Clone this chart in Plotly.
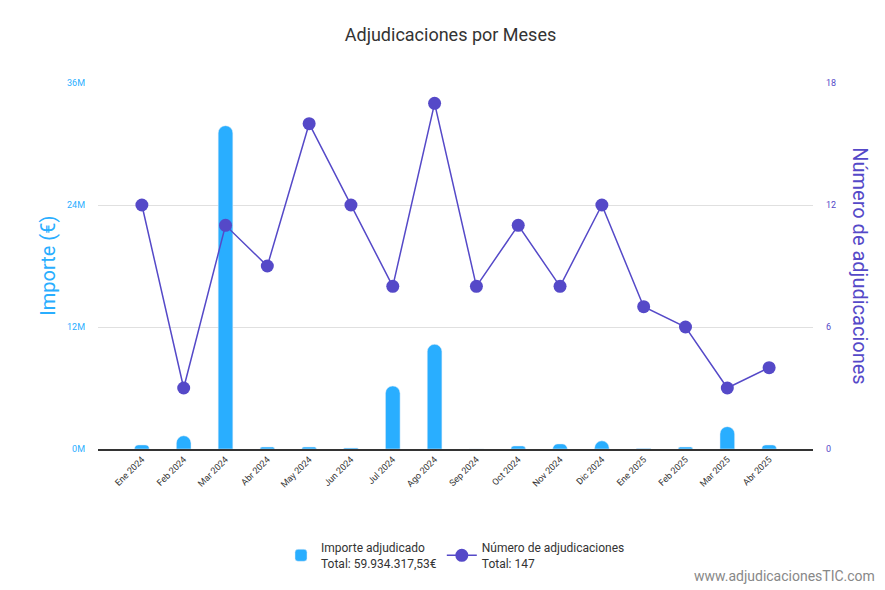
import plotly.graph_objects as go

months = ["Ene 2024","Feb 2024","Mar 2024","Abr 2024","May 2024","Jun 2024","Jul 2024","Ago 2024",
          "Sep 2024","Oct 2024","Nov 2024","Dic 2024","Ene 2025","Feb 2025","Mar 2025","Abr 2025"]
importe = [0.4e6,1.3e6,31.8e6,0.2e6,0.2e6,0.1e6,6.2e6,10.3e6,0,0.3e6,0.5e6,0.8e6,0.05e6,0.2e6,2.2e6,0.4e6]
numero = [12,3,11,9,16,12,8,17,8,11,8,12,7,6,3,4]

fig = go.Figure()
fig.add_trace(go.Bar(x=months, y=importe, name="Importe adjudicado<br>Total: 59.934.317,53€",
                     marker_color="#29AEFF", width=0.35, yaxis="y"))
fig.add_trace(go.Scatter(x=months, y=numero, name="Número de adjudicaciones<br>Total: 147",
                         mode="lines+markers", line=dict(color="#5549C8", width=1.5),
                         marker=dict(size=13, color="#5549C8"), yaxis="y2"))
fig.update_layout(
    width=885, height=590, plot_bgcolor="white", paper_bgcolor="white",
    font=dict(family="Roboto, sans-serif", color="#333"),
    title=dict(text="Adjudicaciones por Meses", x=0.5, y=0.965, font=dict(size=18, color="#333")),
    margin=dict(l=90, r=80, t=75, b=149, autoexpand=False),
    barcornerradius=8, showlegend=True,
    legend=dict(orientation="h", x=0.5, xanchor="center", y=-0.23, yanchor="top",
                font=dict(size=12, color="#333")),
    xaxis=dict(tickangle=-45, tickfont=dict(size=9, color="#333"), showline=True,
               linecolor="#333", linewidth=1.5, showgrid=False, automargin=False),
    yaxis=dict(range=[0,36e6], tickvals=[0,12e6,24e6,36e6], ticktext=["0M","12M","24M","36M"],
               tickfont=dict(size=9, color="#29AEFF"), gridcolor="#e0e0e0", zeroline=False,
               automargin=False, ticklabelstandoff=12),
    yaxis2=dict(range=[0,18], tickvals=[0,6,12,18], overlaying="y", side="right",
                tickfont=dict(size=9, color="#5549C8"), showgrid=False, zeroline=False,
                automargin=False, ticklabelstandoff=12),
    annotations=[
        dict(text="www.adjudicacionesTIC.com", xref="paper", yref="paper",
             x=1.09, y=-0.375, xanchor="right", showarrow=False, font=dict(size=14, color="#888")),
        dict(text="Importe (€)", xref="paper", yref="paper", x=-0.09, y=0.5, textangle=-90,
             showarrow=False, font=dict(size=20, color="#29AEFF")),
        dict(text="Número de adjudicaciones", xref="paper", yref="paper", x=1.085, y=0.5, textangle=90,
             showarrow=False, font=dict(size=20, color="#5549C8")),
    ],
)
fig.write_html("out.html")
